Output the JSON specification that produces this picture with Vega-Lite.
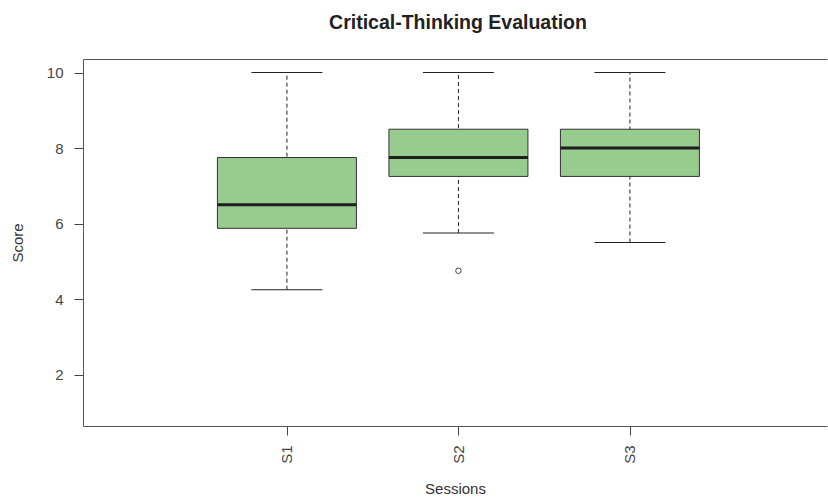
{
  "$schema": "https://vega.github.io/schema/vega-lite/v6.json",
  "width": 744,
  "height": 367,
  "autosize": {"type": "none"},
  "padding": {"left": 83, "top": 59, "right": 1, "bottom": 76},
  "background": "white",
  "config": {"view": {"stroke": null}, "font": "Liberation Sans"},
  "title": {"text": "Critical-Thinking Evaluation", "fontSize": 19.5, "fontWeight": "bold", "color": "#222222", "offset": 26, "dx": 3, "anchor": "middle", "font": "Liberation Sans"},
  "datasets": {
    "boxes": [
      {"session": "S1", "pos": 1, "low": 4.25, "q1": 5.875, "median": 6.5, "q3": 7.75, "high": 10},
      {"session": "S2", "pos": 2, "low": 5.75, "q1": 7.25, "median": 7.75, "q3": 8.5, "high": 10},
      {"session": "S3", "pos": 3, "low": 5.5, "q1": 7.25, "median": 8, "q3": 8.5, "high": 10}
    ],
    "outliers": [
      {"session": "S2", "pos": 2, "score": 4.75}
    ]
  },
  "layer": [
    {
      "data": {"name": "boxes"},
      "mark": {"type": "rule", "strokeDash": [4, 3], "color": "#222222", "strokeWidth": 1, "opacity": 1},
      "encoding": {
        "x": {
          "field": "pos", "type": "quantitative",
          "scale": {"domain": [-0.16, 4.12], "nice": false, "zero": false},
          "axis": {
            "orient": "bottom", "values": [1, 2, 3], "labelExpr": "'S' + datum.value",
            "labelAngle": 270, "tickSize": 9, "labelPadding": 10, "grid": false,
            "title": "Sessions", "titleFontSize": 15, "titleFontWeight": "normal", "titleColor": "#333333", "titlePadding": 18,
            "labelFontSize": 15, "labelColor": "#444444", "domainColor": "#555555", "tickColor": "#444444"
          }
        },
        "y": {
          "field": "low", "type": "quantitative",
          "scale": {"domain": [0.64, 10.36], "nice": false, "zero": false},
          "axis": {
            "values": [2, 4, 6, 8, 10], "tickSize": 9, "labelPadding": 11, "grid": false,
            "title": "Score", "titleFontSize": 15, "titleFontWeight": "normal", "titleColor": "#333333", "titlePadding": 21,
            "labelFontSize": 15, "labelColor": "#444444", "domainColor": "#555555", "tickColor": "#444444"
          }
        },
        "y2": {"field": "high"}
      }
    },
    {
      "data": {"name": "boxes"},
      "mark": {"type": "tick", "orient": "horizontal", "size": 71, "thickness": 1, "color": "#222222", "opacity": 1},
      "encoding": {
        "x": {"field": "pos", "type": "quantitative", "axis": null},
        "y": {"field": "low", "type": "quantitative"}
      }
    },
    {
      "data": {"name": "boxes"},
      "mark": {"type": "tick", "orient": "horizontal", "size": 71, "thickness": 1, "color": "#222222", "opacity": 1},
      "encoding": {
        "x": {"field": "pos", "type": "quantitative", "axis": null},
        "y": {"field": "high", "type": "quantitative"}
      }
    },
    {
      "data": {"name": "boxes"},
      "mark": {"type": "bar", "orient": "vertical", "size": 139, "fill": "#98CC8E", "stroke": "#333333", "strokeWidth": 1, "opacity": 1},
      "encoding": {
        "x": {"field": "pos", "type": "quantitative", "axis": null},
        "y": {"field": "q1", "type": "quantitative"},
        "y2": {"field": "q3"}
      }
    },
    {
      "data": {"name": "boxes"},
      "mark": {"type": "tick", "orient": "horizontal", "size": 139, "thickness": 3, "color": "#1e1e1e", "opacity": 1},
      "encoding": {
        "x": {"field": "pos", "type": "quantitative", "axis": null},
        "y": {"field": "median", "type": "quantitative"}
      }
    },
    {
      "data": {"name": "outliers"},
      "mark": {"type": "point", "shape": "circle", "size": 30, "filled": false, "stroke": "#444444", "strokeWidth": 1, "opacity": 1},
      "encoding": {
        "x": {"field": "pos", "type": "quantitative", "axis": null},
        "y": {"field": "score", "type": "quantitative"}
      }
    },
    {
      "data": {"name": "boxes"},
      "mark": {"type": "point", "opacity": 0},
      "encoding": {
        "x": {"field": "pos", "type": "quantitative", "axis": {"orient": "top", "labels": false, "ticks": false, "title": null, "grid": false, "domainColor": "#555555"}},
        "y": {"field": "median", "type": "quantitative"}
      }
    }
  ],
  "resolve": {"axis": {"x": "independent"}}
}
